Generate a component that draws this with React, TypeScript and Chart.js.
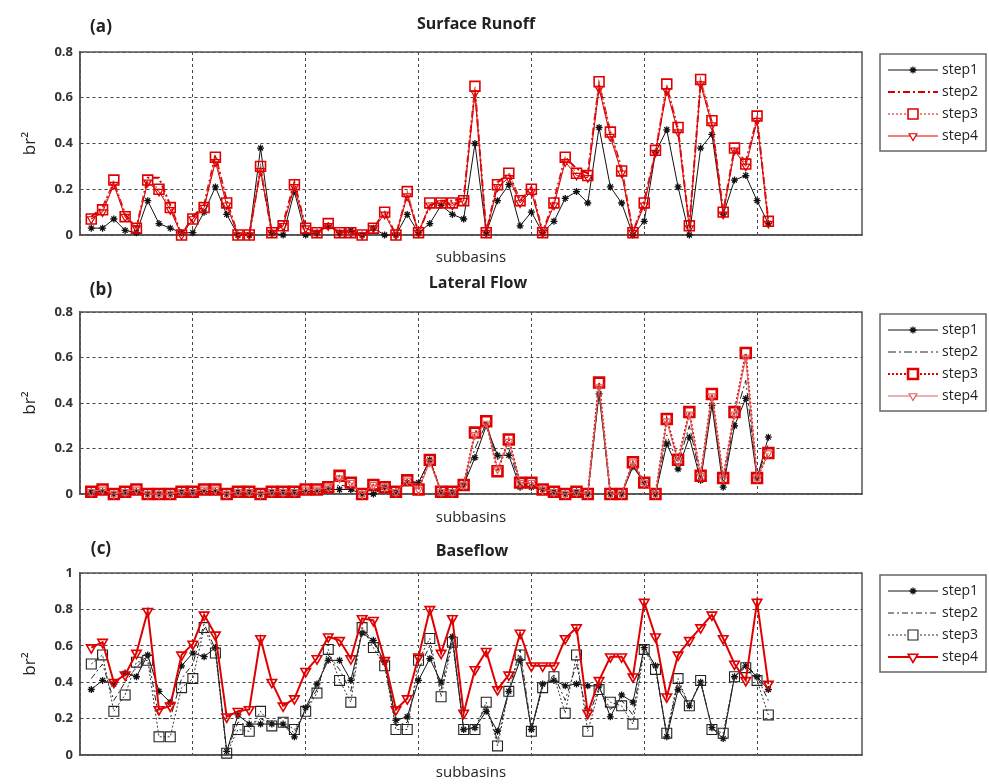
import React, { useEffect, useRef } from 'react';
import { Chart, registerables } from 'chart.js';

Chart.register(...registerables);
Chart.defaults.font.family = "'Open Sans', 'DejaVu Sans', sans-serif";

// ---------- DATA ----------
const subbasins: number[] = Array.from({ length: 61 }, (_, i) => i + 1);
const seriesLabels = ['step1', 'step2', 'step3', 'step4'];

// (a) Surface Runoff
const runoffStep1 = [0.03,0.03,0.07,0.02,0.01,0.15,0.05,0.03,0.01,0.01, 0.10,0.21,0.09,0.00,0.00,0.38,0.01,0.00,0.19,0.00, 0.01,0.04,0.01,0.02,0.00,0.03,0.00,0.00,0.09,0.01, 0.05,0.13,0.09,0.07,0.40,0.01,0.15,0.22,0.04,0.10, 0.01,0.06,0.16,0.19,0.14,0.47,0.21,0.14,0.00,0.06, 0.36,0.46,0.21,0.00,0.38,0.44,0.09,0.24,0.26,0.15,0.05];
const runoffStep2 = [0.08,0.12,0.23,0.09,0.03,0.25,0.25,0.13,0.00,0.08, 0.13,0.35,0.15,0.00,0.00,0.29,0.01,0.05,0.23,0.03, 0.01,0.05,0.01,0.01,0.00,0.03,0.10,0.00,0.18,0.01, 0.13,0.15,0.15,0.16,0.64,0.01,0.23,0.27,0.15,0.21, 0.01,0.15,0.34,0.29,0.27,0.66,0.45,0.29,0.01,0.15, 0.36,0.65,0.46,0.04,0.67,0.49,0.10,0.38,0.32,0.51,0.06];
const runoffStep3 = [0.07,0.11,0.24,0.08,0.03,0.24,0.20,0.12,0.00,0.07, 0.12,0.34,0.14,0.00,0.00,0.30,0.01,0.04,0.22,0.03, 0.01,0.05,0.01,0.01,0.00,0.03,0.10,0.00,0.19,0.01, 0.14,0.14,0.14,0.15,0.65,0.01,0.22,0.27,0.15,0.20, 0.01,0.14,0.34,0.27,0.26,0.67,0.45,0.28,0.01,0.14, 0.37,0.66,0.47,0.04,0.68,0.50,0.10,0.38,0.31,0.52,0.06];
const runoffStep4 = [0.07,0.10,0.22,0.08,0.03,0.23,0.19,0.11,0.00,0.07, 0.12,0.32,0.13,0.00,0.00,0.28,0.01,0.04,0.21,0.03, 0.01,0.04,0.01,0.01,0.00,0.03,0.09,0.00,0.17,0.01, 0.13,0.14,0.13,0.15,0.62,0.01,0.21,0.25,0.14,0.19, 0.01,0.13,0.32,0.26,0.25,0.64,0.43,0.27,0.01,0.13, 0.36,0.63,0.45,0.03,0.66,0.48,0.09,0.37,0.30,0.50,0.05];

// (b) Lateral Flow
const lateralStep1 = [0.01,0.01,0.00,0.01,0.01,0.00,0.00,0.00,0.01,0.01, 0.01,0.01,0.00,0.01,0.01,0.00,0.01,0.01,0.01,0.01, 0.01,0.02,0.02,0.02,0.00,0.00,0.03,0.01,0.05,0.05, 0.15,0.01,0.01,0.04,0.16,0.30,0.17,0.17,0.03,0.03, 0.02,0.01,0.00,0.01,0.00,0.44,0.00,0.00,0.12,0.05, 0.00,0.22,0.11,0.25,0.06,0.39,0.03,0.30,0.42,0.07,0.25];
const lateralStep2 = [0.01,0.02,0.00,0.01,0.02,0.00,0.00,0.00,0.01,0.01, 0.02,0.02,0.00,0.01,0.01,0.00,0.01,0.01,0.01,0.02, 0.02,0.02,0.04,0.03,0.00,0.02,0.03,0.01,0.06,0.05, 0.15,0.01,0.01,0.04,0.20,0.31,0.15,0.20,0.04,0.04, 0.02,0.01,0.00,0.01,0.00,0.46,0.00,0.00,0.13,0.05, 0.00,0.26,0.13,0.30,0.07,0.41,0.05,0.33,0.50,0.07,0.22];
const lateralStep3 = [0.01,0.02,0.00,0.01,0.02,0.00,0.00,0.00,0.01,0.01, 0.02,0.02,0.00,0.01,0.01,0.00,0.01,0.01,0.01,0.02, 0.02,0.03,0.08,0.05,0.00,0.04,0.03,0.01,0.06,0.02, 0.15,0.01,0.01,0.04,0.27,0.32,0.10,0.24,0.05,0.05, 0.02,0.01,0.00,0.01,0.00,0.49,0.00,0.00,0.14,0.05, 0.00,0.33,0.15,0.36,0.08,0.44,0.07,0.36,0.62,0.07,0.18];
const lateralStep4 = [0.01,0.02,0.00,0.01,0.02,0.00,0.00,0.00,0.01,0.01, 0.02,0.02,0.00,0.01,0.01,0.00,0.01,0.01,0.01,0.02, 0.02,0.03,0.07,0.05,0.00,0.04,0.03,0.01,0.06,0.02, 0.14,0.01,0.01,0.04,0.26,0.31,0.11,0.23,0.05,0.05, 0.02,0.01,0.00,0.01,0.00,0.47,0.00,0.00,0.14,0.05, 0.00,0.32,0.14,0.35,0.08,0.43,0.07,0.35,0.60,0.07,0.18];

// (c) Baseflow
const baseflowStep1 = [0.36,0.41,0.39,0.45,0.43,0.55,0.35,0.29,0.49,0.56, 0.54,0.59,0.02,0.22,0.17,0.17,0.17,0.17,0.10,0.26, 0.39,0.52,0.52,0.41,0.67,0.63,0.51,0.19,0.21,0.41, 0.53,0.40,0.65,0.14,0.15,0.24,0.13,0.35,0.52,0.14, 0.39,0.41,0.38,0.39,0.38,0.38,0.21,0.33,0.29,0.59, 0.49,0.10,0.36,0.27,0.40,0.15,0.09,0.43,0.49,0.43,0.36];
const baseflowStep2 = [0.42,0.50,0.30,0.40,0.48,0.55,0.20,0.20,0.42,0.50, 0.72,0.58,0.02,0.18,0.16,0.20,0.17,0.17,0.12,0.25, 0.36,0.55,0.47,0.35,0.70,0.62,0.50,0.16,0.18,0.47, 0.60,0.36,0.64,0.14,0.15,0.27,0.08,0.36,0.58,0.14, 0.38,0.44,0.30,0.50,0.20,0.37,0.25,0.30,0.22,0.60, 0.48,0.11,0.40,0.27,0.40,0.15,0.10,0.43,0.50,0.43,0.30];
const baseflowStep3 = [0.50,0.55,0.24,0.33,0.51,0.52,0.10,0.10,0.37,0.42, 0.70,0.56,0.01,0.14,0.13,0.24,0.16,0.18,0.14,0.24, 0.34,0.58,0.41,0.29,0.70,0.59,0.49,0.14,0.14,0.52, 0.64,0.32,0.62,0.14,0.14,0.29,0.05,0.35,0.55,0.13, 0.37,0.43,0.23,0.55,0.13,0.36,0.29,0.27,0.17,0.58, 0.47,0.12,0.42,0.27,0.41,0.14,0.12,0.43,0.48,0.41,0.22];
const baseflowStep4 = [0.59,0.62,0.40,0.44,0.56,0.79,0.25,0.27,0.55,0.61, 0.77,0.66,0.21,0.24,0.25,0.64,0.40,0.27,0.31,0.46, 0.53,0.65,0.63,0.53,0.75,0.74,0.52,0.25,0.31,0.54, 0.80,0.56,0.75,0.23,0.47,0.57,0.36,0.44,0.67,0.49, 0.49,0.49,0.64,0.70,0.23,0.41,0.54,0.54,0.43,0.84, 0.65,0.32,0.55,0.63,0.70,0.77,0.64,0.50,0.41,0.84,0.39];

// ---------- STYLES ----------
type Marker = 'star' | 'rect' | 'triangle' | null;
interface SeriesStyle { color: string; width: number; dash: number[]; marker: Marker; radius: number; markerColor: string; markerWidth: number; }
interface Panel {
  label: string; title: string; titleX: number; titleY: number; labelY: number;
  top: number; height: number; chartTop: number; chartBottom: number; subY: number; yMax: number;
  values: number[][]; styles: SeriesStyle[];
}

const RED = '#e00000';

const panels: Panel[] = [
  {
    label: '(a)', title: 'Surface Runoff', titleX: 476, titleY: 24, labelY: 27,
    top: 0, height: 268, chartTop: 52, chartBottom: 235, subY: 258, yMax: 0.8,
    values: [runoffStep1, runoffStep2, runoffStep3, runoffStep4],
    styles: [
      { color: '#111', width: 1, dash: [], marker: 'star', radius: 3.5, markerColor: '#111', markerWidth: 1.3 },
      { color: '#d40000', width: 2, dash: [7, 3, 2, 3], marker: null, radius: 0, markerColor: '#d40000', markerWidth: 1 },
      { color: '#e06060', width: 1.3, dash: [2, 2], marker: 'rect', radius: 7, markerColor: RED, markerWidth: 1.6 },
      { color: RED, width: 1, dash: [], marker: 'triangle', radius: 4.5, markerColor: RED, markerWidth: 1.2 },
    ],
  },
  {
    label: '(b)', title: 'Lateral Flow', titleX: 478, titleY: 15, labelY: 22,
    top: 268, height: 262, chartTop: 44, chartBottom: 226, subY: 250, yMax: 0.8,
    values: [lateralStep1, lateralStep2, lateralStep3, lateralStep4],
    styles: [
      { color: '#111', width: 1, dash: [], marker: 'star', radius: 3.5, markerColor: '#111', markerWidth: 1.3 },
      { color: '#222', width: 1, dash: [8, 3, 2, 3], marker: null, radius: 0, markerColor: '#222', markerWidth: 1 },
      { color: RED, width: 2, dash: [2, 2], marker: 'rect', radius: 7, markerColor: RED, markerWidth: 2.6 },
      { color: '#e06060', width: 1, dash: [], marker: 'triangle', radius: 4.5, markerColor: '#e06060', markerWidth: 1.2 },
    ],
  },
  {
    label: '(c)', title: 'Baseflow', titleX: 472, titleY: 21, labelY: 19,
    top: 530, height: 254, chartTop: 43, chartBottom: 225, subY: 243, yMax: 1,
    values: [baseflowStep1, baseflowStep2, baseflowStep3, baseflowStep4],
    styles: [
      { color: '#111', width: 1, dash: [], marker: 'star', radius: 3.5, markerColor: '#111', markerWidth: 1.3 },
      { color: '#222', width: 1, dash: [6, 3, 2, 3], marker: null, radius: 0, markerColor: '#222', markerWidth: 1 },
      { color: '#333', width: 1, dash: [2, 2], marker: 'rect', radius: 7, markerColor: '#222', markerWidth: 1.1 },
      { color: RED, width: 2, dash: [], marker: 'triangle', radius: 5.5, markerColor: RED, markerWidth: 1.6 },
    ],
  },
];

// ---------- DRAW HELPERS ----------
function drawMarker(ctx: CanvasRenderingContext2D, s: SeriesStyle, x: number, y: number) {
  if (!s.marker) return;
  ctx.save();
  ctx.strokeStyle = s.markerColor;
  ctx.lineWidth = s.markerWidth;
  ctx.setLineDash([]);
  ctx.beginPath();
  const r = s.radius;
  if (s.marker === 'star') {
    ctx.moveTo(x - r, y); ctx.lineTo(x + r, y);
    ctx.moveTo(x, y - r); ctx.lineTo(x, y + r);
    const d = r * 0.7;
    ctx.moveTo(x - d, y - d); ctx.lineTo(x + d, y + d);
    ctx.moveTo(x - d, y + d); ctx.lineTo(x + d, y - d);
  } else if (s.marker === 'rect') {
    const h = r * Math.SQRT1_2;
    ctx.fillStyle = '#fff';
    ctx.rect(x - h, y - h, 2 * h, 2 * h);
    ctx.fill();
  } else if (s.marker === 'triangle') {
    for (let k = 0; k < 3; k++) {
      const a = Math.PI + (k * 2 * Math.PI) / 3;
      const px = x + Math.sin(a) * r;
      const py = y - Math.cos(a) * r;
      if (k === 0) ctx.moveTo(px, py); else ctx.lineTo(px, py);
    }
    ctx.closePath();
    ctx.fillStyle = '#fff';
    ctx.fill();
  }
  ctx.stroke();
  ctx.restore();
}

const decorPlugin = {
  id: 'panelDecor',
  beforeDatasetsDraw(chart: any) {
    const { ctx, chartArea } = chart;
    ctx.save();
    ctx.strokeStyle = '#555';
    ctx.lineWidth = 1.5;
    ctx.setLineDash([]);
    ctx.strokeRect(chartArea.left, chartArea.top, chartArea.right - chartArea.left, chartArea.bottom - chartArea.top);
    ctx.restore();
  },
  afterDraw(chart: any, _args: any, opts: any) {
    const p: Panel = opts.panel;
    const { ctx, chartArea } = chart;
    ctx.save();
    ctx.fillStyle = '#222';
    ctx.textBaseline = 'middle';
    ctx.textAlign = 'center';
    ctx.font = "bold 17px 'Open Sans', sans-serif";
    ctx.fillText(p.label, 101, p.labelY);
    ctx.font = "bold 16px 'Open Sans', sans-serif";
    ctx.fillText(p.title, p.titleX, p.titleY);

    // legend
    const x0 = 880, y0 = chartArea.top + 2, w = 106, h = 97;
    ctx.fillStyle = '#fff';
    ctx.fillRect(x0, y0, w, h);
    ctx.strokeStyle = '#666';
    ctx.lineWidth = 1.5;
    ctx.strokeRect(x0, y0, w, h);
    p.styles.forEach((s, i) => {
      const y = y0 + 16 + i * 22;
      ctx.save();
      ctx.strokeStyle = s.color;
      ctx.lineWidth = s.width;
      ctx.setLineDash(s.dash);
      ctx.beginPath();
      ctx.moveTo(x0 + 8, y);
      ctx.lineTo(x0 + 58, y);
      ctx.stroke();
      ctx.restore();
      drawMarker(ctx, s, x0 + 33, y);
      ctx.fillStyle = '#222';
      ctx.font = "14px 'Open Sans', sans-serif";
      ctx.textAlign = 'left';
      ctx.textBaseline = 'middle';
      ctx.fillText(seriesLabels[i], x0 + 62, y);
    });
    ctx.restore();
  },
};

function buildConfig(p: Panel): any {
  const gridOpts = { color: '#444', lineWidth: 1, drawTicks: false };
  const borderOpts = { display: true, color: '#555', width: 1.5, dash: [3, 3] };
  return {
    type: 'line',
    data: {
      datasets: p.values.map((vals, k) => {
        const s = p.styles[k];
        return {
          label: seriesLabels[k],
          data: subbasins.map((x, i) => ({ x, y: vals[i] })),
          borderColor: s.color,
          borderWidth: s.width,
          borderDash: s.dash,
          backgroundColor: 'rgba(0,0,0,0)',
          pointStyle: s.marker ? s.marker : false,
          pointRadius: s.marker ? s.radius : 0,
          pointBorderColor: s.markerColor,
          pointBorderWidth: s.markerWidth,
          pointBackgroundColor: 'rgba(0,0,0,0)',
          pointRotation: s.marker === 'triangle' ? 180 : 0,
          tension: 0,
          fill: false,
          clip: false,
          order: 3 - k,
        };
      }),
    },
    options: {
      animation: false,
      responsive: false,
      events: [],
      layout: { padding: { left: 0, right: 127, top: p.chartTop, bottom: 0 } },
      plugins: {
        legend: { display: false },
        tooltip: { enabled: false },
        title: { display: false },
        panelDecor: { panel: p },
      },
      scales: {
        x: {
          type: 'linear', min: 0, max: 69.3,
          ticks: { display: false, stepSize: 10, includeBounds: false },
          grid: gridOpts,
          border: borderOpts,
          title: {
            display: true, text: 'subbasins', color: '#222',
            font: { size: 15, lineHeight: 1.2 },
            padding: { top: 0, bottom: p.height - p.subY - 9 },
          },
          afterFit: (scale: any) => { scale.height = p.height - p.chartBottom; },
        },
        y: {
          type: 'linear', min: 0, max: p.yMax,
          ticks: {
            stepSize: 0.2, padding: 7, color: '#333',
            font: { size: 13, weight: 'bold' },
            callback: (v: number) => String(Number(Number(v).toFixed(1))),
          },
          grid: gridOpts,
          border: borderOpts,
          title: {
            display: true, text: 'br²', color: '#222',
            font: { size: 17, lineHeight: 1.2 },
            padding: { top: 20, bottom: 0 },
          },
          afterFit: (scale: any) => { scale.width = 80; },
        },
      },
    },
    plugins: [decorPlugin],
  };
}

export default function App() {
  const refs = useRef<(HTMLCanvasElement | null)[]>([]);
  useEffect(() => {
    const charts = panels.map((p, i) => new Chart(refs.current[i] as HTMLCanvasElement, buildConfig(p)));
    return () => charts.forEach((c) => c.destroy());
  }, []);
  return (
    <div style={{ position: 'absolute', left: 0, top: 0, width: 989, height: 784, background: '#fff', overflow: 'hidden' }}>
      {panels.map((p, i) => (
        <canvas
          key={p.label}
          ref={(el) => { refs.current[i] = el; }}
          width={989}
          height={p.height}
          style={{ position: 'absolute', left: 0, top: p.top, width: 989, height: p.height }}
        />
      ))}
    </div>
  );
}
